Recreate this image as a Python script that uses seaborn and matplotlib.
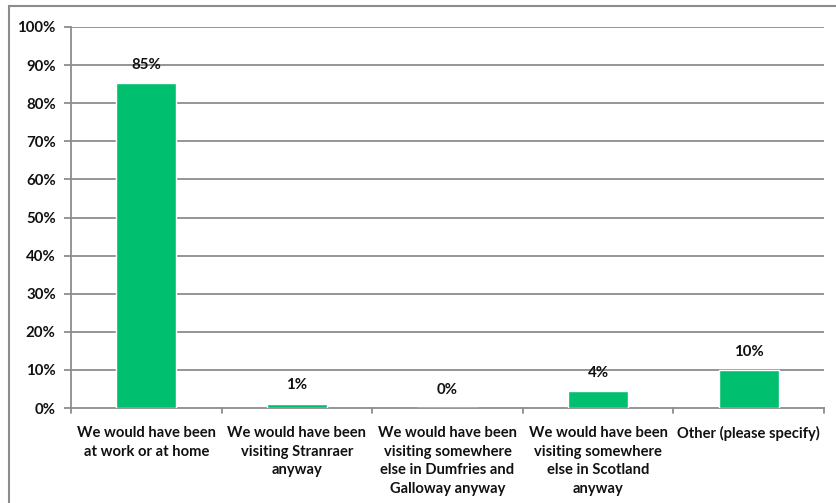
import matplotlib
matplotlib.use("Agg")
import matplotlib.pyplot as plt
from matplotlib.patches import Rectangle
import seaborn as sns
import pandas as pd

categories = [
    "We would have been\nat work or at home",
    "We would have been\nvisiting Stranraer\nanyway",
    "We would have been\nvisiting somewhere\nelse in Dumfries and\nGalloway anyway",
    "We would have been\nvisiting somewhere\nelse in Scotland\nanyway",
    "Other (please specify)",
]
percent = [85.2, 1.1, 0.0, 4.4, 9.9]
y_ticks = list(range(0, 101, 10))
y_tick_labels = [f"{t}%" for t in y_ticks]

sns.set_theme(style="white")
plt.rcParams["font.family"] = ["Lato", "DejaVu Sans"]

W, H = 836, 503
fig = plt.figure(figsize=(W / 100, H / 100), dpi=100)
ax = fig.add_axes([71 / W, (H - 408) / H, (824 - 71) / W, (408 - 27) / H])

df = pd.DataFrame({"category": categories, "percent": percent})
sns.barplot(data=df, x="category", y="percent", color="#00BF6F",
            saturation=1, width=0.4, ax=ax, zorder=3)

grid_c = "#8C8C8C"
txt_c = "#111111"
ax.set_ylim(0, 100)
ax.set_xlim(-0.5, len(categories) - 0.5)
ax.set_yticks(y_ticks)
ax.set_yticklabels(y_tick_labels, fontsize=10.8, fontweight="bold", color=txt_c)
for t in y_ticks[1:]:
    ax.axhline(t, color=grid_c, lw=1.3, zorder=1)

ax.set_xticks([i for i in range(len(categories))])
ax.set_xticklabels(categories, fontsize=10.6, fontweight="bold", color=txt_c,
                   linespacing=1.42, va="top")
ax.tick_params(axis="x", length=0, pad=13)
ax.tick_params(axis="y", length=5, width=1.3, color=grid_c, pad=6, left=True)

# category separators on the x axis
for b in [i - 0.5 for i in range(len(categories) + 1)]:
    ax.plot([b, b], [0, -1.3], color=grid_c, lw=1.3, clip_on=False, zorder=4)

ax.set_xlabel("")
ax.set_ylabel("")
for side in ["top", "right"]:
    ax.spines[side].set_visible(False)
for side in ["left", "bottom"]:
    ax.spines[side].set_color(grid_c)
    ax.spines[side].set_linewidth(1.3)

for i, v in enumerate(percent):
    ax.text(i, v + 3.0, f"{round(v)}%", ha="center", va="bottom",
            fontsize=10.8, fontweight="bold", color=txt_c, zorder=5)

# chart-area frame
fig.patches.append(Rectangle((9 / W, -0.1), 1.2, (H - 6) / H + 0.1,
                             transform=fig.transFigure, fill=False,
                             edgecolor="#8C8C8C", lw=1.5))

fig.savefig("out.png", dpi=100)
